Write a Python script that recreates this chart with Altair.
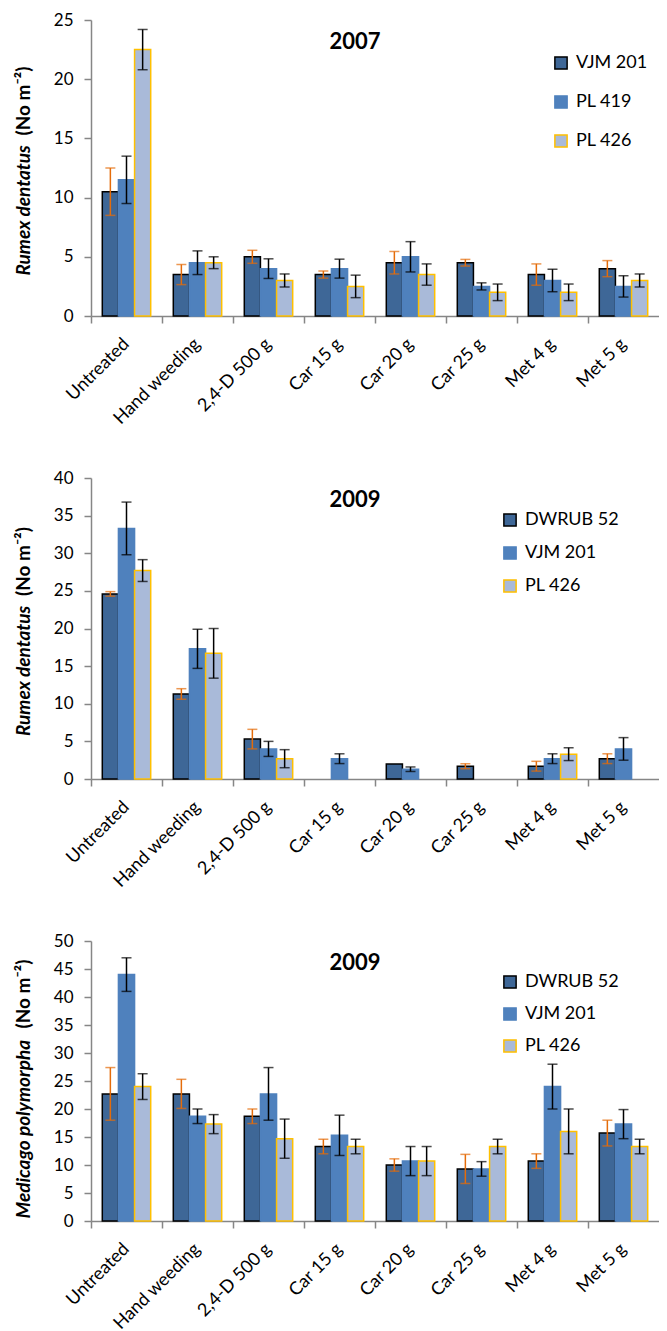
import altair as alt
import pandas as pd

FONT = "Lato"

categories = ["Untreated", "Hand weeding", "2,4-D 500 g", "Car 15 g",
              "Car 20 g", "Car 25 g", "Met 4 g", "Met 5 g"]

# Panel 1: Rumex dentatus 2007
series_2007 = ["VJM 201", "PL 419", "PL 426"]
vjm201_2007 = [10.5, 3.5, 5.0, 3.5, 4.5, 4.5, 3.5, 4.0]
vjm201_2007_err = [2.0, 0.85, 0.55, 0.3, 0.95, 0.28, 0.9, 0.68]
pl419_2007 = [11.5, 4.5, 4.0, 4.0, 5.0, 2.5, 3.0, 2.5]
pl419_2007_err = [2.0, 1.0, 0.83, 0.8, 1.28, 0.3, 0.95, 0.9]
pl426_2007 = [22.5, 4.5, 3.0, 2.5, 3.5, 2.0, 2.0, 3.0]
pl426_2007_err = [1.7, 0.5, 0.55, 0.95, 0.9, 0.7, 0.7, 0.55]

# Panel 2: Rumex dentatus 2009
series_2009 = ["DWRUB 52", "VJM 201", "PL 426"]
dwrub52_rum = [24.6, 11.3, 5.3, None, 2.0, 1.7, 1.7, 2.7]
dwrub52_rum_err = [0.3, 0.7, 1.3, None, None, 0.33, 0.65, 0.65]
vjm201_rum = [33.3, 17.3, 4.0, 2.7, 1.3, None, 2.7, 4.0]
vjm201_rum_err = [3.5, 2.6, 1.0, 0.65, 0.3, None, 0.65, 1.5]
pl426_rum = [27.7, 16.7, 2.7, None, None, None, 3.3, None]
pl426_rum_err = [1.45, 3.3, 1.2, None, None, None, 0.85, None]

# Panel 3: Medicago polymorpha 2009
dwrub52_med = [22.7, 22.7, 18.7, 13.3, 10.0, 9.3, 10.7, 15.7]
dwrub52_med_err = [4.7, 2.6, 1.3, 1.3, 1.1, 2.6, 1.3, 2.3]
vjm201_med = [44.0, 18.7, 22.7, 15.3, 10.7, 9.3, 24.0, 17.3]
vjm201_med_err = [3.0, 1.3, 4.7, 3.6, 2.6, 1.3, 4.0, 2.6]
pl426_med = [24.0, 17.3, 14.7, 13.3, 10.7, 13.3, 16.0, 13.3]
pl426_med_err = [2.3, 1.7, 3.5, 1.3, 2.6, 1.3, 4.0, 1.3]

FILLS = ["#3E6797", "#4F81BD", "#A9BAD9"]
STROKES = ["#000000", "#4F81BD", "#FFC000"]
ERR_COLORS = ["#E46C0A", "#000000", "#000000"]
GRAY = "#868686"

WIDTH = 568
YT_SIZE = 19
PAREN_LEN = 74


def build_df(series, values, errs):
    rows = []
    for i, (s, vals, es) in enumerate(zip(series, values, errs)):
        for c, v, e in zip(categories, vals, es):
            rows.append(dict(treat=c, series=s, value=v, err=e,
                             errcolor=ERR_COLORS[i]))
    df = pd.DataFrame(rows)
    df["lo"] = df["value"] - df["err"]
    df["hi"] = df["value"] + df["err"]
    return df


def panel(df, series, ymax, height, year, italic_title, paren_title,
          italic_len, gap, shift, legend_x, legend_y, legend_pad):
    bars_df = df[df["value"].notna()][["treat", "series", "value"]]
    err_df = df[df["err"].notna()][["treat", "series", "lo", "hi", "errcolor"]]

    yscale = alt.Scale(domain=[0, ymax], nice=False, zero=True)
    xscale = alt.Scale(paddingInner=0, paddingOuter=0)
    xoff = alt.XOffset("series:N", sort=series,
                       scale=alt.Scale(paddingInner=0, paddingOuter=0.7))

    total_len = italic_len + gap + PAREN_LEN
    start_y = height / 2 + total_len / 2 + shift
    paren_y = start_y - italic_len - gap

    leg = alt.Legend(title=None, orient="none", legendX=legend_x,
                     legendY=legend_y, symbolType="square", symbolSize=150,
                     symbolStrokeWidth=1.5, labelFontSize=18, labelFont=FONT,
                     labelColor="black", labelOffset=6, rowPadding=legend_pad)

    bars = alt.Chart(bars_df).mark_bar(strokeWidth=1.5).encode(
        x=alt.X("treat:N", sort=categories, title=None, scale=xscale,
                axis=alt.Axis(orient="bottom", labelAngle=-45, labelAlign="right",
                              labelBaseline="middle", ticks=False, domain=True,
                              domainColor=GRAY, domainWidth=1.5,
                              labelFontSize=18, labelFont=FONT,
                              labelColor="black", labelPadding=25, grid=False)),
        xOffset=xoff,
        y=alt.Y("value:Q", scale=yscale,
                axis=alt.Axis(orient="left", values=list(range(0, ymax + 1, 5)),
                              grid=False, domainColor=GRAY, domainWidth=1.5,
                              tickColor=GRAY, tickWidth=1.5, tickSize=7,
                              labelFontSize=17, labelFont=FONT,
                              labelColor="black", labelPadding=11,
                              title=italic_title, titleFont=FONT,
                              titleFontSize=YT_SIZE, titleFontWeight="bold",
                              titleFontStyle="italic", titleColor="black",
                              titleAngle=270, titleAlign="left",
                              titleBaseline="alphabetic", titleX=-62,
                              titleY=start_y)),
        fill=alt.Fill("series:N", sort=series,
                      scale=alt.Scale(domain=series, range=FILLS), legend=leg),
        stroke=alt.Stroke("series:N", sort=series,
                          scale=alt.Scale(domain=series, range=STROKES),
                          legend=leg),
    )

    rules = alt.Chart(err_df).mark_rule(strokeWidth=1.5).encode(
        x=alt.X("treat:N", sort=categories, title=None, scale=xscale,
                axis=alt.Axis(orient="bottom", bandPosition=0, labels=False,
                              domain=False, ticks=True, tickColor=GRAY,
                              tickWidth=1.5, tickSize=7, grid=False)),
        xOffset=xoff,
        y=alt.Y("lo:Q", scale=yscale,
                axis=alt.Axis(orient="left", labels=False, ticks=False,
                              domain=False, grid=False, title=paren_title,
                              titleFont=FONT, titleFontSize=YT_SIZE,
                              titleFontWeight="bold", titleFontStyle="normal",
                              titleColor="black", titleAngle=270,
                              titleAlign="left", titleBaseline="alphabetic",
                              titleX=-62, titleY=paren_y)),
        y2="hi:Q",
        color=alt.Color("errcolor:N", scale=None),
    )

    caps = alt.Chart(err_df).transform_fold(
        ["lo", "hi"], as_=["end", "yv"]
    ).mark_tick(thickness=1.5, size=10).encode(
        x=alt.X("treat:N", sort=categories, scale=xscale, axis=None),
        xOffset=xoff,
        y=alt.Y("yv:Q", scale=yscale, axis=None),
        color=alt.Color("errcolor:N", scale=None),
    )

    return alt.layer(bars, rules, caps).resolve_axis(
        x="independent", y="independent"
    ).properties(
        width=WIDTH, height=height,
        title=alt.TitleParams(text=year, font=FONT, fontSize=22,
                              fontWeight="bold", color="black",
                              anchor="middle", frame="group", offset=-43,
                              dx=-20),
    )


df1 = build_df(series_2007, [vjm201_2007, pl419_2007, pl426_2007],
               [vjm201_2007_err, pl419_2007_err, pl426_2007_err])
df2 = build_df(series_2009, [dwrub52_rum, vjm201_rum, pl426_rum],
               [dwrub52_rum_err, vjm201_rum_err, pl426_rum_err])
df3 = build_df(series_2009, [dwrub52_med, vjm201_med, pl426_med],
               [dwrub52_med_err, vjm201_med_err, pl426_med_err])

p1 = panel(df1, series_2007, 25, 296, "2007", "Rumex dentatus", "(No m⁻²)",
           134, 6, 0, 461, 34, 19)
p2 = panel(df2, series_2009, 40, 301, "2009", "Rumex dentatus", "(No m⁻²)",
           134, 6, 0, 410, 33, 13)
p3 = panel(df3, series_2009, 50, 280, "2009", "Medicago polymorpha", "(No m⁻²)",
           180, 10, 5, 410, 32, 12)

chart = alt.vconcat(p1, p2, p3, spacing=41).resolve_scale(
    x="independent", y="independent", fill="independent",
    stroke="independent", xOffset="independent"
).resolve_legend(
    fill="independent", stroke="independent"
).properties(
    padding={"left": 6, "top": 3, "right": 0, "bottom": 0}
).configure_view(stroke=None)

chart.save("out.html", embed_options={"renderer": "svg", "actions": False})
